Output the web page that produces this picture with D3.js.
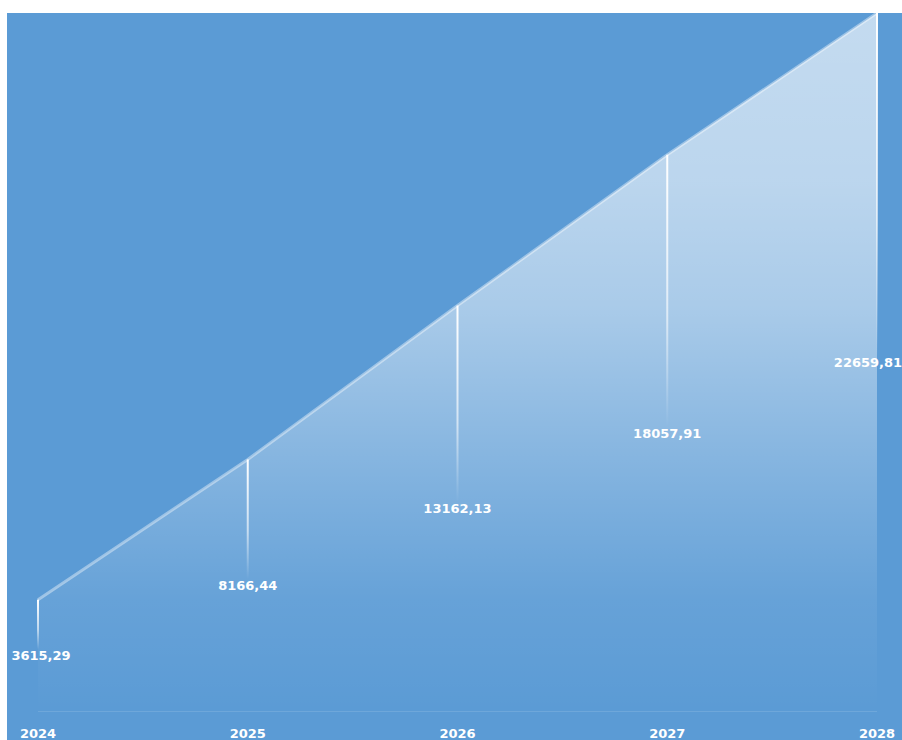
<!DOCTYPE html>
<html>
<head>
<meta charset="utf-8">
<script src="https://cdn.jsdelivr.net/npm/d3@7"></script>
<style>
  html, body { margin: 0; padding: 0; background: #fff; }
  svg { display: block; }
</style>
</head>
<body>
<div id="chart"></div>
<script>
const years = ["2024", "2025", "2026", "2027", "2028"];
const values = [3615.29, 8166.44, 13162.13, 18057.91, 22659.81];
const valueLabels = ["3615,29", "8166,44", "13162,13", "18057,91", "22659,81"];

const width = 902, height = 740;
const bg = "#5b9bd5";
const font = "DejaVu Sans, sans-serif";

const svg = d3.select("#chart").append("svg")
  .attr("width", width)
  .attr("height", height);

// plot background
svg.append("rect")
  .attr("x", 7).attr("y", 13)
  .attr("width", width - 7).attr("height", height - 13)
  .attr("fill", bg);

const x = d3.scalePoint()
  .domain(years)
  .range([38, 877]);

const y = d3.scaleLinear()
  .domain([0, d3.max(values)])
  .range([711, 13]);

const data = years.map((yr, i) => ({ year: yr, value: values[i], label: valueLabels[i] }));

const defs = svg.append("defs");

// area fill: white fading out towards the baseline (eased, not linear)
const areaGrad = defs.append("linearGradient")
  .attr("id", "areaGrad")
  .attr("gradientUnits", "userSpaceOnUse")
  .attr("x1", 0).attr("y1", y(d3.max(values)))
  .attr("x2", 0).attr("y2", y(0));
[[0, 0.64], [0.24, 0.59], [0.42, 0.48], [0.67, 0.23], [0.84, 0.07], [1, 0]].forEach(s => {
  areaGrad.append("stop").attr("offset", s[0]).attr("stop-color", "#fff").attr("stop-opacity", s[1]);
});

// fading drop lines, one gradient per point
data.forEach((d, i) => {
  const g = defs.append("linearGradient")
    .attr("id", "drop" + i)
    .attr("gradientUnits", "userSpaceOnUse")
    .attr("x1", 0).attr("y1", y(d.value))
    .attr("x2", 0).attr("y2", (y(d.value) + y(0)) / 2 - 6);
  g.append("stop").attr("offset", 0).attr("stop-color", "#fff").attr("stop-opacity", 1);
  g.append("stop").attr("offset", 0.6).attr("stop-color", "#fff").attr("stop-opacity", 0.6);
  g.append("stop").attr("offset", 1).attr("stop-color", "#fff").attr("stop-opacity", 0);
});

const area = d3.area()
  .x(d => x(d.year))
  .y0(y(0))
  .y1(d => y(d.value));

svg.append("path")
  .datum(data)
  .attr("d", area)
  .attr("fill", "url(#areaGrad)");

// top edge highlight
const line = d3.line()
  .x(d => x(d.year))
  .y(d => y(d.value));

svg.append("path")
  .datum(data)
  .attr("d", line)
  .attr("fill", "none")
  .attr("stroke", "#fff")
  .attr("stroke-opacity", 0.4)
  .attr("stroke-width", 3);

// baseline
svg.append("line")
  .attr("x1", x(years[0])).attr("x2", x(years[years.length - 1]))
  .attr("y1", y(0) + 0.5).attr("y2", y(0) + 0.5)
  .attr("stroke", "#fff")
  .attr("stroke-opacity", 0.12);

// drop lines
svg.selectAll(".drop")
  .data(data)
  .join("rect")
  .attr("class", "drop")
  .attr("x", d => x(d.year) - 1)
  .attr("width", 2)
  .attr("y", d => y(d.value))
  .attr("height", d => (y(0) - y(d.value)) / 2)
  .attr("fill", (d, i) => "url(#drop" + i + ")");

// value labels
svg.selectAll(".vlabel")
  .data(data)
  .join("text")
  .attr("class", "vlabel")
  .attr("x", (d, i) => i === 0 ? x(d.year) + 3 : (i === data.length - 1 ? x(d.year) - 9 : x(d.year)))
  .attr("y", d => (y(d.value) + y(0)) / 2 + 5)
  .attr("text-anchor", "middle")
  .attr("fill", "#fff")
  .attr("font-family", font)
  .attr("font-weight", "bold")
  .attr("font-size", 13)
  .text(d => d.label);

// x axis labels
svg.selectAll(".xlabel")
  .data(years)
  .join("text")
  .attr("class", "xlabel")
  .attr("x", d => x(d))
  .attr("y", 738)
  .attr("text-anchor", "middle")
  .attr("fill", "#fff")
  .attr("font-family", font)
  .attr("font-weight", "bold")
  .attr("font-size", 13)
  .text(d => d);
</script>
</body>
</html>
